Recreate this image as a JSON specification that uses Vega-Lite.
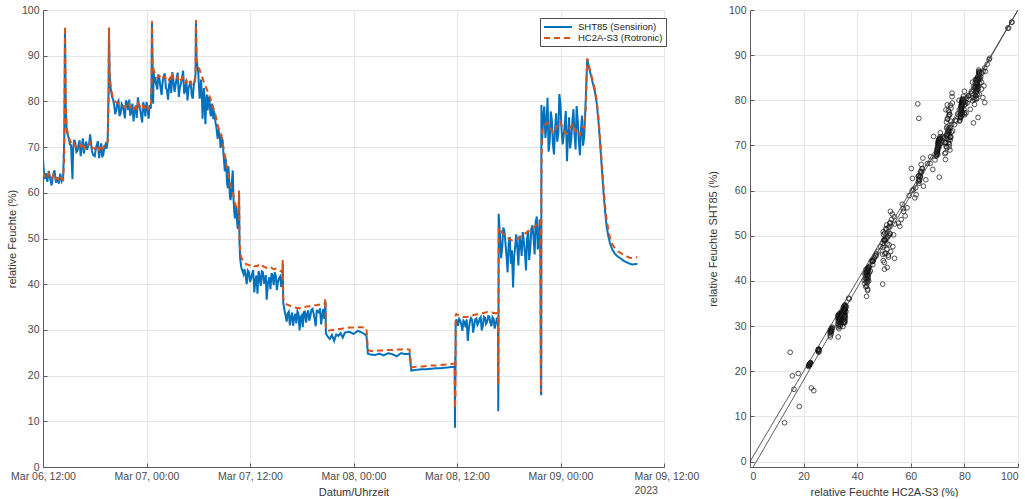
{
  "$schema": "https://vega.github.io/schema/vega-lite/v6.json",
  "background": "white",
  "padding": {"left": 6, "top": 5, "right": 5, "bottom": 0},
  "bounds": "flush",
  "spacing": 86,
  "config": {
    "font": "Liberation Sans",
    "view": {"stroke": null},
    "axis": {
      "labelFont": "Liberation Sans",
      "labelFontSize": 10.5,
      "labelColor": "#4a4a4a",
      "titleFont": "Liberation Sans",
      "titleFontSize": 11,
      "titleFontWeight": "normal",
      "titleColor": "#333333",
      "domainColor": "#5a5a5a",
      "tickColor": "#5a5a5a",
      "gridColor": "#e6e6e6",
      "tickSize": -4,
      "labelPadding": 8
    }
  },
  "datasets": {
    "rh": [
      {"t": "2023-03-06T12:00", "s": 67.2, "r": 64.5},
      {"t": "2023-03-06T12:10", "s": 63.0, "r": 63.6},
      {"t": "2023-03-06T12:20", "s": 64.3, "r": 63.9},
      {"t": "2023-03-06T12:30", "s": 62.4, "r": 63.3},
      {"t": "2023-03-06T12:40", "s": 64.8, "r": 64.2},
      {"t": "2023-03-06T12:50", "s": 63.1, "r": 63.5},
      {"t": "2023-03-06T13:00", "s": 61.6, "r": 63.0},
      {"t": "2023-03-06T13:10", "s": 63.9, "r": 63.8},
      {"t": "2023-03-06T13:20", "s": 64.9, "r": 64.3},
      {"t": "2023-03-06T13:30", "s": 62.2, "r": 63.1},
      {"t": "2023-03-06T13:40", "s": 63.4, "r": 63.2},
      {"t": "2023-03-06T13:50", "s": 62.0, "r": 62.9},
      {"t": "2023-03-06T14:00", "s": 64.2, "r": 63.6},
      {"t": "2023-03-06T14:10", "s": 62.5, "r": 63.0},
      {"t": "2023-03-06T14:20", "s": 63.2, "r": 62.8},
      {"t": "2023-03-06T14:28", "s": 72.0, "r": 68.5},
      {"t": "2023-03-06T14:33", "s": 96.0, "r": 96.5},
      {"t": "2023-03-06T14:38", "s": 79.0, "r": 80.0},
      {"t": "2023-03-06T14:45", "s": 73.5, "r": 74.0},
      {"t": "2023-03-06T15:00", "s": 71.8, "r": 72.2},
      {"t": "2023-03-06T15:15", "s": 70.4, "r": 71.0},
      {"t": "2023-03-06T15:25", "s": 63.0, "r": 70.6},
      {"t": "2023-03-06T15:30", "s": 69.8, "r": 70.4},
      {"t": "2023-03-06T15:45", "s": 70.9, "r": 70.2},
      {"t": "2023-03-06T16:00", "s": 69.2, "r": 70.0},
      {"t": "2023-03-06T16:15", "s": 71.5, "r": 70.8},
      {"t": "2023-03-06T16:30", "s": 70.0, "r": 70.3},
      {"t": "2023-03-06T16:45", "s": 68.6, "r": 69.7},
      {"t": "2023-03-06T17:00", "s": 71.2, "r": 70.4},
      {"t": "2023-03-06T17:15", "s": 70.3, "r": 70.5},
      {"t": "2023-03-06T17:28", "s": 72.8, "r": 71.0},
      {"t": "2023-03-06T17:40", "s": 69.1, "r": 70.0},
      {"t": "2023-03-06T18:00", "s": 68.0, "r": 69.6},
      {"t": "2023-03-06T18:15", "s": 70.5, "r": 70.2},
      {"t": "2023-03-06T18:30", "s": 67.6, "r": 69.4},
      {"t": "2023-03-06T18:45", "s": 70.8, "r": 70.4},
      {"t": "2023-03-06T19:00", "s": 68.4, "r": 69.9},
      {"t": "2023-03-06T19:15", "s": 70.6, "r": 70.6},
      {"t": "2023-03-06T19:30", "s": 71.4, "r": 71.2},
      {"t": "2023-03-06T19:36", "s": 82.0, "r": 80.0},
      {"t": "2023-03-06T19:39", "s": 96.0, "r": 96.2},
      {"t": "2023-03-06T19:43", "s": 86.0, "r": 86.5},
      {"t": "2023-03-06T19:50", "s": 83.0, "r": 83.5},
      {"t": "2023-03-06T20:00", "s": 81.0, "r": 81.6},
      {"t": "2023-03-06T20:15", "s": 79.2, "r": 80.4},
      {"t": "2023-03-06T20:30", "s": 78.0, "r": 79.8},
      {"t": "2023-03-06T20:45", "s": 80.1, "r": 79.5},
      {"t": "2023-03-06T21:00", "s": 77.4, "r": 79.2},
      {"t": "2023-03-06T21:15", "s": 78.9, "r": 79.0},
      {"t": "2023-03-06T21:30", "s": 76.3, "r": 78.6},
      {"t": "2023-03-06T21:45", "s": 79.6, "r": 79.1},
      {"t": "2023-03-06T22:00", "s": 80.4, "r": 79.4},
      {"t": "2023-03-06T22:15", "s": 77.8, "r": 78.8},
      {"t": "2023-03-06T22:30", "s": 75.6, "r": 78.3},
      {"t": "2023-03-06T22:45", "s": 79.1, "r": 78.9},
      {"t": "2023-03-06T23:00", "s": 80.9, "r": 79.6},
      {"t": "2023-03-06T23:15", "s": 78.3, "r": 79.0},
      {"t": "2023-03-06T23:30", "s": 75.4, "r": 78.2},
      {"t": "2023-03-06T23:45", "s": 78.8, "r": 78.7},
      {"t": "2023-03-07T00:00", "s": 79.9, "r": 79.3},
      {"t": "2023-03-07T00:15", "s": 76.2, "r": 78.4},
      {"t": "2023-03-07T00:30", "s": 78.4, "r": 78.9},
      {"t": "2023-03-07T00:35", "s": 84.0, "r": 83.0},
      {"t": "2023-03-07T00:38", "s": 97.3, "r": 97.6},
      {"t": "2023-03-07T00:42", "s": 88.0, "r": 88.5},
      {"t": "2023-03-07T00:46", "s": 79.5, "r": 87.6},
      {"t": "2023-03-07T00:50", "s": 86.5, "r": 87.0},
      {"t": "2023-03-07T01:00", "s": 85.3, "r": 86.1},
      {"t": "2023-03-07T01:15", "s": 82.6, "r": 85.2},
      {"t": "2023-03-07T01:30", "s": 84.9, "r": 85.6},
      {"t": "2023-03-07T01:45", "s": 81.4, "r": 84.8},
      {"t": "2023-03-07T02:00", "s": 85.6, "r": 85.4},
      {"t": "2023-03-07T02:15", "s": 83.0, "r": 84.9},
      {"t": "2023-03-07T02:30", "s": 80.4, "r": 84.3},
      {"t": "2023-03-07T02:45", "s": 84.8, "r": 85.2},
      {"t": "2023-03-07T03:00", "s": 86.4, "r": 85.6},
      {"t": "2023-03-07T03:15", "s": 82.1, "r": 84.6},
      {"t": "2023-03-07T03:30", "s": 85.1, "r": 85.0},
      {"t": "2023-03-07T03:45", "s": 81.0, "r": 84.2},
      {"t": "2023-03-07T04:00", "s": 83.9, "r": 84.7},
      {"t": "2023-03-07T04:15", "s": 86.7, "r": 85.3},
      {"t": "2023-03-07T04:30", "s": 82.5, "r": 84.1},
      {"t": "2023-03-07T04:45", "s": 80.2, "r": 83.7},
      {"t": "2023-03-07T05:00", "s": 83.6, "r": 84.2},
      {"t": "2023-03-07T05:15", "s": 81.3, "r": 83.6},
      {"t": "2023-03-07T05:30", "s": 83.9, "r": 84.0},
      {"t": "2023-03-07T05:41", "s": 86.0, "r": 85.5},
      {"t": "2023-03-07T05:44", "s": 97.3, "r": 97.8},
      {"t": "2023-03-07T05:48", "s": 89.0, "r": 89.2},
      {"t": "2023-03-07T06:00", "s": 86.4, "r": 87.8},
      {"t": "2023-03-07T06:10", "s": 80.6, "r": 86.9},
      {"t": "2023-03-07T06:20", "s": 84.8, "r": 86.0},
      {"t": "2023-03-07T06:30", "s": 76.2, "r": 85.1},
      {"t": "2023-03-07T06:40", "s": 82.9, "r": 84.2},
      {"t": "2023-03-07T06:50", "s": 75.0, "r": 83.4},
      {"t": "2023-03-07T07:00", "s": 81.5, "r": 82.6},
      {"t": "2023-03-07T07:10", "s": 80.2, "r": 81.8},
      {"t": "2023-03-07T07:20", "s": 79.4, "r": 81.0},
      {"t": "2023-03-07T07:30", "s": 76.8, "r": 80.1},
      {"t": "2023-03-07T07:40", "s": 78.6, "r": 79.2},
      {"t": "2023-03-07T07:50", "s": 77.9, "r": 78.1},
      {"t": "2023-03-07T08:00", "s": 75.4, "r": 77.0},
      {"t": "2023-03-07T08:10", "s": 73.2, "r": 75.6},
      {"t": "2023-03-07T08:20", "s": 73.9, "r": 74.3},
      {"t": "2023-03-07T08:30", "s": 72.6, "r": 73.6},
      {"t": "2023-03-07T08:40", "s": 70.6, "r": 72.8},
      {"t": "2023-03-07T08:50", "s": 71.4, "r": 70.9},
      {"t": "2023-03-07T09:00", "s": 66.8, "r": 69.0},
      {"t": "2023-03-07T09:10", "s": 67.5, "r": 67.4},
      {"t": "2023-03-07T09:20", "s": 62.4, "r": 65.6},
      {"t": "2023-03-07T09:30", "s": 65.8, "r": 63.9},
      {"t": "2023-03-07T09:40", "s": 59.1, "r": 62.0},
      {"t": "2023-03-07T09:50", "s": 60.3, "r": 61.0},
      {"t": "2023-03-07T10:00", "s": 64.9, "r": 60.2},
      {"t": "2023-03-07T10:10", "s": 56.2, "r": 58.6},
      {"t": "2023-03-07T10:20", "s": 55.4, "r": 57.3},
      {"t": "2023-03-07T10:30", "s": 53.6, "r": 56.4},
      {"t": "2023-03-07T10:40", "s": 52.8, "r": 55.4},
      {"t": "2023-03-07T10:44", "s": 60.0, "r": 60.5},
      {"t": "2023-03-07T10:47", "s": 49.0, "r": 50.0},
      {"t": "2023-03-07T10:52", "s": 45.5, "r": 47.0},
      {"t": "2023-03-07T11:00", "s": 43.6, "r": 45.8},
      {"t": "2023-03-07T11:15", "s": 42.2, "r": 44.9},
      {"t": "2023-03-07T11:30", "s": 41.8, "r": 44.5},
      {"t": "2023-03-07T11:45", "s": 43.0, "r": 44.3},
      {"t": "2023-03-07T12:00", "s": 40.5, "r": 44.1},
      {"t": "2023-03-07T12:15", "s": 42.3, "r": 44.2},
      {"t": "2023-03-07T12:30", "s": 38.2, "r": 43.9},
      {"t": "2023-03-07T12:45", "s": 41.9, "r": 44.0},
      {"t": "2023-03-07T13:00", "s": 42.9, "r": 44.2},
      {"t": "2023-03-07T13:15", "s": 39.6, "r": 43.8},
      {"t": "2023-03-07T13:30", "s": 42.6, "r": 44.0},
      {"t": "2023-03-07T13:45", "s": 41.2, "r": 43.7},
      {"t": "2023-03-07T13:56", "s": 36.6, "r": 43.5},
      {"t": "2023-03-07T14:15", "s": 41.5, "r": 43.6},
      {"t": "2023-03-07T14:30", "s": 42.4, "r": 43.6},
      {"t": "2023-03-07T14:45", "s": 39.8, "r": 43.3},
      {"t": "2023-03-07T15:00", "s": 41.8, "r": 43.4},
      {"t": "2023-03-07T15:15", "s": 40.6, "r": 43.1},
      {"t": "2023-03-07T15:30", "s": 41.7, "r": 42.9},
      {"t": "2023-03-07T15:45", "s": 40.2, "r": 42.6},
      {"t": "2023-03-07T15:48", "s": 44.5, "r": 45.3},
      {"t": "2023-03-07T15:51", "s": 36.0, "r": 37.0},
      {"t": "2023-03-07T16:00", "s": 34.3, "r": 36.0},
      {"t": "2023-03-07T16:15", "s": 31.8, "r": 35.6},
      {"t": "2023-03-07T16:30", "s": 34.0, "r": 35.4},
      {"t": "2023-03-07T16:45", "s": 32.6, "r": 35.2},
      {"t": "2023-03-07T17:00", "s": 30.9, "r": 35.0},
      {"t": "2023-03-07T17:15", "s": 33.5, "r": 34.9},
      {"t": "2023-03-07T17:30", "s": 34.1, "r": 34.8},
      {"t": "2023-03-07T17:45", "s": 29.9, "r": 34.7},
      {"t": "2023-03-07T18:00", "s": 33.2, "r": 34.9},
      {"t": "2023-03-07T18:15", "s": 33.9, "r": 35.0},
      {"t": "2023-03-07T18:30", "s": 31.6, "r": 35.1},
      {"t": "2023-03-07T18:45", "s": 34.3, "r": 35.2},
      {"t": "2023-03-07T19:00", "s": 33.0, "r": 35.2},
      {"t": "2023-03-07T19:15", "s": 34.6, "r": 35.3},
      {"t": "2023-03-07T19:30", "s": 32.3, "r": 35.4},
      {"t": "2023-03-07T19:45", "s": 34.4, "r": 35.4},
      {"t": "2023-03-07T20:00", "s": 33.8, "r": 35.5},
      {"t": "2023-03-07T20:15", "s": 31.2, "r": 35.4},
      {"t": "2023-03-07T20:30", "s": 34.6, "r": 35.5},
      {"t": "2023-03-07T20:45", "s": 36.2, "r": 36.8},
      {"t": "2023-03-07T20:48", "s": 29.2, "r": 30.0},
      {"t": "2023-03-07T21:00", "s": 28.6, "r": 29.8},
      {"t": "2023-03-07T21:15", "s": 28.0, "r": 29.9},
      {"t": "2023-03-07T21:30", "s": 28.9, "r": 30.0},
      {"t": "2023-03-07T21:45", "s": 27.6, "r": 30.0},
      {"t": "2023-03-07T22:00", "s": 29.0, "r": 30.1},
      {"t": "2023-03-07T22:15", "s": 28.7, "r": 30.2},
      {"t": "2023-03-07T22:30", "s": 29.3, "r": 30.2},
      {"t": "2023-03-07T22:45", "s": 28.3, "r": 30.3},
      {"t": "2023-03-07T23:00", "s": 29.4, "r": 30.4},
      {"t": "2023-03-07T23:30", "s": 29.6, "r": 30.5},
      {"t": "2023-03-08T00:00", "s": 29.1, "r": 30.5},
      {"t": "2023-03-08T00:30", "s": 29.8, "r": 30.6},
      {"t": "2023-03-08T01:00", "s": 29.4, "r": 30.6},
      {"t": "2023-03-08T01:30", "s": 28.8, "r": 30.4},
      {"t": "2023-03-08T01:40", "s": 24.8, "r": 25.6},
      {"t": "2023-03-08T02:00", "s": 24.6, "r": 25.4},
      {"t": "2023-03-08T02:30", "s": 24.5, "r": 25.4},
      {"t": "2023-03-08T03:00", "s": 24.8, "r": 25.5},
      {"t": "2023-03-08T03:30", "s": 24.4, "r": 25.5},
      {"t": "2023-03-08T04:00", "s": 24.9, "r": 25.6},
      {"t": "2023-03-08T04:30", "s": 24.7, "r": 25.6},
      {"t": "2023-03-08T05:00", "s": 24.2, "r": 25.7},
      {"t": "2023-03-08T05:30", "s": 24.9, "r": 25.7},
      {"t": "2023-03-08T06:00", "s": 24.7, "r": 25.8},
      {"t": "2023-03-08T06:30", "s": 24.8, "r": 25.7},
      {"t": "2023-03-08T06:42", "s": 21.1, "r": 21.8},
      {"t": "2023-03-08T07:00", "s": 21.2, "r": 21.9},
      {"t": "2023-03-08T07:30", "s": 21.3, "r": 22.0},
      {"t": "2023-03-08T08:00", "s": 21.4, "r": 22.0},
      {"t": "2023-03-08T08:30", "s": 21.4, "r": 22.1},
      {"t": "2023-03-08T09:00", "s": 21.5, "r": 22.2},
      {"t": "2023-03-08T09:30", "s": 21.6, "r": 22.2},
      {"t": "2023-03-08T10:00", "s": 21.6, "r": 22.3},
      {"t": "2023-03-08T10:30", "s": 21.7, "r": 22.4},
      {"t": "2023-03-08T11:00", "s": 21.8, "r": 22.5},
      {"t": "2023-03-08T11:30", "s": 21.9, "r": 22.6},
      {"t": "2023-03-08T11:44", "s": 21.9, "r": 22.6},
      {"t": "2023-03-08T11:46", "s": 8.6, "r": 12.9},
      {"t": "2023-03-08T11:48", "s": 24.2, "r": 15.0},
      {"t": "2023-03-08T11:49", "s": 19.0, "r": 15.8},
      {"t": "2023-03-08T11:51", "s": 31.5, "r": 33.2},
      {"t": "2023-03-08T12:00", "s": 31.8, "r": 33.4},
      {"t": "2023-03-08T12:15", "s": 32.4, "r": 33.1},
      {"t": "2023-03-08T12:30", "s": 31.2, "r": 32.9},
      {"t": "2023-03-08T12:45", "s": 32.0, "r": 32.8},
      {"t": "2023-03-08T13:00", "s": 30.6, "r": 32.8},
      {"t": "2023-03-08T13:15", "s": 27.6, "r": 32.9},
      {"t": "2023-03-08T13:30", "s": 31.9, "r": 33.0},
      {"t": "2023-03-08T13:45", "s": 32.2, "r": 33.2},
      {"t": "2023-03-08T14:00", "s": 31.0, "r": 33.3},
      {"t": "2023-03-08T14:15", "s": 32.5, "r": 33.4},
      {"t": "2023-03-08T14:30", "s": 31.6, "r": 33.5},
      {"t": "2023-03-08T14:45", "s": 32.8, "r": 33.6},
      {"t": "2023-03-08T15:00", "s": 30.9, "r": 33.7},
      {"t": "2023-03-08T15:15", "s": 32.7, "r": 33.8},
      {"t": "2023-03-08T15:30", "s": 31.8, "r": 33.9},
      {"t": "2023-03-08T15:45", "s": 32.9, "r": 33.9},
      {"t": "2023-03-08T16:00", "s": 30.8, "r": 33.8},
      {"t": "2023-03-08T16:15", "s": 32.4, "r": 33.7},
      {"t": "2023-03-08T16:30", "s": 31.4, "r": 33.6},
      {"t": "2023-03-08T16:45", "s": 32.6, "r": 33.8},
      {"t": "2023-03-08T16:47", "s": 12.2, "r": 18.4},
      {"t": "2023-03-08T16:48", "s": 19.5, "r": 18.0},
      {"t": "2023-03-08T16:50", "s": 55.4, "r": 52.4},
      {"t": "2023-03-08T17:00", "s": 50.1, "r": 51.8},
      {"t": "2023-03-08T17:15", "s": 48.2, "r": 51.2},
      {"t": "2023-03-08T17:30", "s": 51.6, "r": 50.7},
      {"t": "2023-03-08T17:45", "s": 46.0, "r": 50.3},
      {"t": "2023-03-08T18:00", "s": 49.1, "r": 50.0},
      {"t": "2023-03-08T18:15", "s": 44.5, "r": 49.7},
      {"t": "2023-03-08T18:30", "s": 39.3, "r": 49.5},
      {"t": "2023-03-08T18:45", "s": 48.3, "r": 49.6},
      {"t": "2023-03-08T19:00", "s": 47.8, "r": 49.9},
      {"t": "2023-03-08T19:15", "s": 50.6, "r": 50.3},
      {"t": "2023-03-08T19:30", "s": 46.2, "r": 50.6},
      {"t": "2023-03-08T19:45", "s": 49.4, "r": 51.0},
      {"t": "2023-03-08T20:00", "s": 43.0, "r": 51.2},
      {"t": "2023-03-08T20:15", "s": 51.8, "r": 51.6},
      {"t": "2023-03-08T20:30", "s": 48.0, "r": 51.9},
      {"t": "2023-03-08T20:45", "s": 52.9, "r": 52.3},
      {"t": "2023-03-08T21:00", "s": 46.5, "r": 52.5},
      {"t": "2023-03-08T21:15", "s": 54.8, "r": 53.1},
      {"t": "2023-03-08T21:30", "s": 50.2, "r": 53.6},
      {"t": "2023-03-08T21:40", "s": 45.0, "r": 53.9},
      {"t": "2023-03-08T21:44", "s": 16.0, "r": 16.4},
      {"t": "2023-03-08T21:45", "s": 16.3, "r": 22.9},
      {"t": "2023-03-08T21:46", "s": 15.7, "r": 23.8},
      {"t": "2023-03-08T21:47", "s": 79.2, "r": 62.6},
      {"t": "2023-03-08T21:48", "s": 76.0, "r": 63.0},
      {"t": "2023-03-08T21:50", "s": 70.5, "r": 72.8},
      {"t": "2023-03-08T22:00", "s": 76.8, "r": 74.5},
      {"t": "2023-03-08T22:15", "s": 72.0, "r": 74.9},
      {"t": "2023-03-08T22:30", "s": 80.8, "r": 75.4},
      {"t": "2023-03-08T22:45", "s": 71.3, "r": 74.2},
      {"t": "2023-03-08T23:00", "s": 75.9, "r": 73.6},
      {"t": "2023-03-08T23:15", "s": 68.4, "r": 73.0},
      {"t": "2023-03-08T23:30", "s": 77.4, "r": 74.3},
      {"t": "2023-03-08T23:45", "s": 73.0, "r": 75.1},
      {"t": "2023-03-09T00:00", "s": 79.4, "r": 75.5},
      {"t": "2023-03-09T00:15", "s": 70.6, "r": 74.0},
      {"t": "2023-03-09T00:30", "s": 75.2, "r": 73.3},
      {"t": "2023-03-09T00:45", "s": 66.9, "r": 72.9},
      {"t": "2023-03-09T01:00", "s": 76.5, "r": 74.1},
      {"t": "2023-03-09T01:15", "s": 71.8, "r": 74.6},
      {"t": "2023-03-09T01:30", "s": 78.3, "r": 75.0},
      {"t": "2023-03-09T01:45", "s": 69.5, "r": 73.4},
      {"t": "2023-03-09T02:00", "s": 75.8, "r": 73.8},
      {"t": "2023-03-09T02:15", "s": 68.2, "r": 72.7},
      {"t": "2023-03-09T02:30", "s": 76.9, "r": 74.5},
      {"t": "2023-03-09T02:45", "s": 72.4, "r": 74.2},
      {"t": "2023-03-09T02:55", "s": 80.0, "r": 78.0},
      {"t": "2023-03-09T03:06", "s": 89.3, "r": 89.4},
      {"t": "2023-03-09T03:20", "s": 87.2, "r": 87.6},
      {"t": "2023-03-09T03:40", "s": 84.6, "r": 85.0},
      {"t": "2023-03-09T04:00", "s": 82.0, "r": 82.6},
      {"t": "2023-03-09T04:12", "s": 79.6, "r": 80.2},
      {"t": "2023-03-09T04:24", "s": 75.6, "r": 76.6},
      {"t": "2023-03-09T04:34", "s": 71.6, "r": 72.4},
      {"t": "2023-03-09T04:46", "s": 66.0, "r": 67.2},
      {"t": "2023-03-09T04:58", "s": 60.6, "r": 61.8},
      {"t": "2023-03-09T05:10", "s": 56.0, "r": 57.2},
      {"t": "2023-03-09T05:21", "s": 52.6, "r": 54.0},
      {"t": "2023-03-09T05:33", "s": 50.5, "r": 52.0},
      {"t": "2023-03-09T05:44", "s": 49.0, "r": 50.2},
      {"t": "2023-03-09T06:00", "s": 47.6, "r": 48.8},
      {"t": "2023-03-09T06:20", "s": 46.6, "r": 47.8},
      {"t": "2023-03-09T06:40", "s": 46.0, "r": 47.2},
      {"t": "2023-03-09T07:00", "s": 45.6, "r": 46.8},
      {"t": "2023-03-09T07:20", "s": 45.1, "r": 46.4},
      {"t": "2023-03-09T07:40", "s": 44.8, "r": 46.1},
      {"t": "2023-03-09T08:00", "s": 44.5, "r": 45.8},
      {"t": "2023-03-09T08:20", "s": 44.3, "r": 45.7},
      {"t": "2023-03-09T08:40", "s": 44.4, "r": 45.8},
      {"t": "2023-03-09T08:55", "s": 44.4, "r": 45.9},
      {"t": "2023-03-06T15:07", "s": 70.6, "r": 71.5},
      {"t": "2023-03-06T15:37", "s": 71.6, "r": 70.7},
      {"t": "2023-03-06T15:52", "s": 68.9, "r": 70.0},
      {"t": "2023-03-06T16:07", "s": 70.5, "r": 70.3},
      {"t": "2023-03-06T16:22", "s": 68.0, "r": 70.1},
      {"t": "2023-03-06T16:37", "s": 71.9, "r": 70.9},
      {"t": "2023-03-06T16:52", "s": 70.2, "r": 70.1},
      {"t": "2023-03-06T17:07", "s": 69.4, "r": 70.0},
      {"t": "2023-03-06T17:22", "s": 71.0, "r": 70.6},
      {"t": "2023-03-06T17:35", "s": 70.6, "r": 70.3},
      {"t": "2023-03-06T17:50", "s": 68.2, "r": 69.8},
      {"t": "2023-03-06T18:07", "s": 69.5, "r": 70.0},
      {"t": "2023-03-06T18:22", "s": 71.3, "r": 70.4},
      {"t": "2023-03-06T18:37", "s": 69.2, "r": 69.8},
      {"t": "2023-03-06T18:52", "s": 67.8, "r": 69.6},
      {"t": "2023-03-06T19:07", "s": 70.0, "r": 70.3},
      {"t": "2023-03-06T19:22", "s": 69.6, "r": 70.5},
      {"t": "2023-03-06T20:07", "s": 80.5, "r": 80.9},
      {"t": "2023-03-06T20:22", "s": 77.2, "r": 80.0},
      {"t": "2023-03-06T20:37", "s": 79.6, "r": 79.6},
      {"t": "2023-03-06T20:52", "s": 76.8, "r": 79.3},
      {"t": "2023-03-06T21:07", "s": 79.4, "r": 79.1},
      {"t": "2023-03-06T21:22", "s": 77.9, "r": 78.9},
      {"t": "2023-03-06T21:37", "s": 80.2, "r": 79.2},
      {"t": "2023-03-06T21:52", "s": 78.1, "r": 78.9},
      {"t": "2023-03-06T22:07", "s": 76.9, "r": 78.7},
      {"t": "2023-03-06T22:22", "s": 79.5, "r": 79.0},
      {"t": "2023-03-06T22:37", "s": 78.2, "r": 78.6},
      {"t": "2023-03-06T22:52", "s": 76.4, "r": 78.5},
      {"t": "2023-03-06T23:07", "s": 79.3, "r": 79.1},
      {"t": "2023-03-06T23:22", "s": 77.0, "r": 78.7},
      {"t": "2023-03-06T23:37", "s": 79.8, "r": 79.0},
      {"t": "2023-03-06T23:52", "s": 76.7, "r": 78.6},
      {"t": "2023-03-07T00:07", "s": 78.6, "r": 78.9},
      {"t": "2023-03-07T00:22", "s": 79.2, "r": 79.0},
      {"t": "2023-03-07T00:55", "s": 84.0, "r": 86.4},
      {"t": "2023-03-07T01:07", "s": 83.8, "r": 85.7},
      {"t": "2023-03-07T01:22", "s": 85.9, "r": 85.6},
      {"t": "2023-03-07T01:37", "s": 83.1, "r": 85.1},
      {"t": "2023-03-07T01:52", "s": 84.2, "r": 85.0},
      {"t": "2023-03-07T02:07", "s": 86.1, "r": 85.4},
      {"t": "2023-03-07T02:22", "s": 82.4, "r": 84.7},
      {"t": "2023-03-07T02:37", "s": 83.6, "r": 84.8},
      {"t": "2023-03-07T02:52", "s": 81.8, "r": 84.5},
      {"t": "2023-03-07T03:07", "s": 84.6, "r": 85.0},
      {"t": "2023-03-07T03:22", "s": 83.5, "r": 84.8},
      {"t": "2023-03-07T03:37", "s": 86.3, "r": 85.4},
      {"t": "2023-03-07T03:52", "s": 83.0, "r": 84.6},
      {"t": "2023-03-07T04:07", "s": 85.2, "r": 84.9},
      {"t": "2023-03-07T04:22", "s": 81.7, "r": 84.3},
      {"t": "2023-03-07T04:37", "s": 84.7, "r": 84.6},
      {"t": "2023-03-07T04:52", "s": 82.9, "r": 84.0},
      {"t": "2023-03-07T05:07", "s": 84.5, "r": 84.3},
      {"t": "2023-03-07T05:22", "s": 80.6, "r": 83.5},
      {"t": "2023-03-07T05:35", "s": 84.6, "r": 84.1},
      {"t": "2023-03-07T06:05", "s": 83.2, "r": 87.3},
      {"t": "2023-03-07T06:15", "s": 82.5, "r": 86.4},
      {"t": "2023-03-07T06:25", "s": 81.4, "r": 85.5},
      {"t": "2023-03-07T06:35", "s": 80.3, "r": 84.6},
      {"t": "2023-03-07T06:45", "s": 79.1, "r": 83.8},
      {"t": "2023-03-07T06:55", "s": 79.9, "r": 83.0},
      {"t": "2023-03-07T07:05", "s": 78.0, "r": 82.2},
      {"t": "2023-03-07T07:15", "s": 81.0, "r": 81.4},
      {"t": "2023-03-07T07:25", "s": 77.2, "r": 80.6},
      {"t": "2023-03-07T07:35", "s": 79.5, "r": 79.6},
      {"t": "2023-03-07T07:45", "s": 76.1, "r": 78.6},
      {"t": "2023-03-07T07:55", "s": 77.0, "r": 77.5},
      {"t": "2023-03-07T08:05", "s": 74.6, "r": 76.3},
      {"t": "2023-03-07T08:15", "s": 71.8, "r": 74.9},
      {"t": "2023-03-07T08:25", "s": 72.9, "r": 73.9},
      {"t": "2023-03-07T08:35", "s": 69.8, "r": 73.2},
      {"t": "2023-03-07T08:45", "s": 72.0, "r": 71.9},
      {"t": "2023-03-07T08:55", "s": 68.7, "r": 70.0},
      {"t": "2023-03-07T09:05", "s": 64.7, "r": 68.2},
      {"t": "2023-03-07T09:15", "s": 66.0, "r": 66.2},
      {"t": "2023-03-07T09:25", "s": 61.0, "r": 64.7},
      {"t": "2023-03-07T09:35", "s": 63.2, "r": 62.9},
      {"t": "2023-03-07T09:45", "s": 58.4, "r": 61.5},
      {"t": "2023-03-07T09:55", "s": 62.7, "r": 60.6},
      {"t": "2023-03-07T10:05", "s": 58.9, "r": 59.4},
      {"t": "2023-03-07T10:15", "s": 54.4, "r": 57.9},
      {"t": "2023-03-07T10:25", "s": 57.0, "r": 56.8},
      {"t": "2023-03-07T10:35", "s": 52.1, "r": 55.9},
      {"t": "2023-03-07T11:22", "s": 43.3, "r": 44.7},
      {"t": "2023-03-07T11:37", "s": 40.0, "r": 44.3},
      {"t": "2023-03-07T11:52", "s": 42.7, "r": 44.2},
      {"t": "2023-03-07T12:07", "s": 41.2, "r": 44.0},
      {"t": "2023-03-07T12:22", "s": 43.1, "r": 44.2},
      {"t": "2023-03-07T12:37", "s": 40.8, "r": 44.0},
      {"t": "2023-03-07T12:52", "s": 37.9, "r": 43.9},
      {"t": "2023-03-07T13:07", "s": 41.4, "r": 44.0},
      {"t": "2023-03-07T13:22", "s": 42.8, "r": 43.9},
      {"t": "2023-03-07T13:37", "s": 40.1, "r": 43.8},
      {"t": "2023-03-07T13:50", "s": 42.0, "r": 43.7},
      {"t": "2023-03-07T14:05", "s": 40.4, "r": 43.5},
      {"t": "2023-03-07T14:22", "s": 38.9, "r": 43.5},
      {"t": "2023-03-07T14:37", "s": 41.9, "r": 43.4},
      {"t": "2023-03-07T14:52", "s": 42.6, "r": 43.3},
      {"t": "2023-03-07T15:07", "s": 38.7, "r": 43.2},
      {"t": "2023-03-07T15:22", "s": 41.3, "r": 43.0},
      {"t": "2023-03-07T15:37", "s": 39.4, "r": 42.8},
      {"t": "2023-03-07T16:07", "s": 33.2, "r": 35.8},
      {"t": "2023-03-07T16:22", "s": 33.6, "r": 35.5},
      {"t": "2023-03-07T16:37", "s": 31.0, "r": 35.3},
      {"t": "2023-03-07T16:52", "s": 33.8, "r": 35.1},
      {"t": "2023-03-07T17:07", "s": 32.7, "r": 34.9},
      {"t": "2023-03-07T17:22", "s": 31.4, "r": 34.8},
      {"t": "2023-03-07T17:37", "s": 33.6, "r": 34.8},
      {"t": "2023-03-07T17:52", "s": 32.8, "r": 34.8},
      {"t": "2023-03-07T18:07", "s": 30.6, "r": 34.9},
      {"t": "2023-03-07T18:22", "s": 34.0, "r": 35.0},
      {"t": "2023-03-07T18:37", "s": 33.4, "r": 35.1},
      {"t": "2023-03-07T18:52", "s": 32.0, "r": 35.2},
      {"t": "2023-03-07T19:07", "s": 34.4, "r": 35.2},
      {"t": "2023-03-07T19:22", "s": 33.7, "r": 35.3},
      {"t": "2023-03-07T19:37", "s": 30.8, "r": 35.4},
      {"t": "2023-03-07T19:52", "s": 33.9, "r": 35.5},
      {"t": "2023-03-07T20:07", "s": 34.7, "r": 35.5},
      {"t": "2023-03-07T20:22", "s": 33.1, "r": 35.4},
      {"t": "2023-03-07T20:37", "s": 32.4, "r": 35.5},
      {"t": "2023-03-08T11:55", "s": 32.3, "r": 33.5},
      {"t": "2023-03-08T12:07", "s": 30.9, "r": 33.3},
      {"t": "2023-03-08T12:22", "s": 32.1, "r": 33.0},
      {"t": "2023-03-08T12:37", "s": 29.8, "r": 32.9},
      {"t": "2023-03-08T12:52", "s": 31.7, "r": 32.8},
      {"t": "2023-03-08T13:07", "s": 32.3, "r": 32.8},
      {"t": "2023-03-08T13:22", "s": 30.2, "r": 32.9},
      {"t": "2023-03-08T13:37", "s": 32.6, "r": 33.1},
      {"t": "2023-03-08T13:52", "s": 29.4, "r": 33.2},
      {"t": "2023-03-08T14:07", "s": 32.3, "r": 33.3},
      {"t": "2023-03-08T14:22", "s": 31.1, "r": 33.4},
      {"t": "2023-03-08T14:37", "s": 32.4, "r": 33.5},
      {"t": "2023-03-08T14:52", "s": 29.9, "r": 33.6},
      {"t": "2023-03-08T15:07", "s": 32.9, "r": 33.7},
      {"t": "2023-03-08T15:22", "s": 31.3, "r": 33.8},
      {"t": "2023-03-08T15:37", "s": 33.0, "r": 33.9},
      {"t": "2023-03-08T15:52", "s": 31.5, "r": 33.9},
      {"t": "2023-03-08T16:07", "s": 32.8, "r": 33.8},
      {"t": "2023-03-08T16:22", "s": 30.3, "r": 33.7},
      {"t": "2023-03-08T16:37", "s": 32.5, "r": 33.7},
      {"t": "2023-03-08T16:55", "s": 52.8, "r": 52.2},
      {"t": "2023-03-08T17:07", "s": 45.7, "r": 51.6},
      {"t": "2023-03-08T17:22", "s": 52.4, "r": 51.0},
      {"t": "2023-03-08T17:37", "s": 49.0, "r": 50.5},
      {"t": "2023-03-08T17:52", "s": 42.6, "r": 50.2},
      {"t": "2023-03-08T18:07", "s": 50.3, "r": 49.8},
      {"t": "2023-03-08T18:22", "s": 47.4, "r": 49.6},
      {"t": "2023-03-08T18:37", "s": 45.9, "r": 49.5},
      {"t": "2023-03-08T18:52", "s": 50.9, "r": 49.7},
      {"t": "2023-03-08T19:07", "s": 44.1, "r": 50.1},
      {"t": "2023-03-08T19:22", "s": 49.1, "r": 50.4},
      {"t": "2023-03-08T19:37", "s": 51.4, "r": 50.8},
      {"t": "2023-03-08T19:52", "s": 47.0, "r": 51.1},
      {"t": "2023-03-08T20:07", "s": 49.8, "r": 51.4},
      {"t": "2023-03-08T20:22", "s": 45.3, "r": 51.7},
      {"t": "2023-03-08T20:37", "s": 52.1, "r": 52.0},
      {"t": "2023-03-08T20:52", "s": 50.4, "r": 52.4},
      {"t": "2023-03-08T21:07", "s": 53.6, "r": 52.8},
      {"t": "2023-03-08T21:22", "s": 47.6, "r": 53.3},
      {"t": "2023-03-08T21:35", "s": 54.2, "r": 53.8},
      {"t": "2023-03-08T21:55", "s": 73.1, "r": 74.0},
      {"t": "2023-03-08T22:07", "s": 78.9, "r": 74.8},
      {"t": "2023-03-08T22:22", "s": 74.6, "r": 75.2},
      {"t": "2023-03-08T22:37", "s": 69.0, "r": 74.6},
      {"t": "2023-03-08T22:52", "s": 77.8, "r": 74.0},
      {"t": "2023-03-08T23:07", "s": 70.7, "r": 73.2},
      {"t": "2023-03-08T23:22", "s": 74.1, "r": 73.5},
      {"t": "2023-03-08T23:37", "s": 71.2, "r": 74.7},
      {"t": "2023-03-08T23:52", "s": 81.6, "r": 75.4},
      {"t": "2023-03-09T00:07", "s": 74.0, "r": 74.8},
      {"t": "2023-03-09T00:22", "s": 72.5, "r": 73.6},
      {"t": "2023-03-09T00:37", "s": 77.9, "r": 73.1},
      {"t": "2023-03-09T00:52", "s": 72.2, "r": 73.4},
      {"t": "2023-03-09T01:07", "s": 69.7, "r": 74.3},
      {"t": "2023-03-09T01:22", "s": 75.4, "r": 74.9},
      {"t": "2023-03-09T01:37", "s": 73.2, "r": 74.4},
      {"t": "2023-03-09T01:52", "s": 79.0, "r": 73.6},
      {"t": "2023-03-09T02:07", "s": 71.6, "r": 73.2},
      {"t": "2023-03-09T02:22", "s": 73.8, "r": 73.4},
      {"t": "2023-03-09T02:37", "s": 70.3, "r": 74.4}
    ],
    "ref": [
      {"g": "identity", "x": 0, "y": 0},
      {"g": "identity", "x": 100, "y": 100},
      {"g": "fit", "x": 1.2, "y": -1.2},
      {"g": "fit", "x": 100, "y": 100}
    ]
  },
  "hconcat": [
    {
      "width": 621,
      "height": 457,
      "data": {"name": "rh"},
      "transform": [{"fold": ["s", "r"], "as": ["k", "v"]}],
      "mark": {"type": "line", "strokeWidth": 2, "clip": true},
      "encoding": {
        "x": {
          "field": "t",
          "type": "temporal",
          "scale": {
            "domain": [
              {"year": 2023, "month": 3, "date": 6, "hours": 12},
              {"year": 2023, "month": 3, "date": 9, "hours": 12}
            ]
          },
          "axis": {
            "values": [
              {"year": 2023, "month": 3, "date": 6, "hours": 12},
              {"year": 2023, "month": 3, "date": 7, "hours": 0},
              {"year": 2023, "month": 3, "date": 7, "hours": 12},
              {"year": 2023, "month": 3, "date": 8, "hours": 0},
              {"year": 2023, "month": 3, "date": 8, "hours": 12},
              {"year": 2023, "month": 3, "date": 9, "hours": 0},
              {"year": 2023, "month": 3, "date": 9, "hours": 12}
            ],
            "format": "%b %d, %H:%M",
            "labelExpr": "date(datum.value) == 9 && hours(datum.value) == 12 ? [datum.label, '2023'] : datum.label",
            "labelAlign": {
              "condition": {"test": "date(datum.value) == 9 && hours(datum.value) == 12", "value": "left"},
              "value": "center"
            },
            "labelOffset": {
              "condition": {"test": "date(datum.value) == 9 && hours(datum.value) == 12", "value": -30},
              "value": 0
            },
            "labelLineHeight": 14,
            "labelFlush": false,
            "grid": true,
            "title": "Datum/Uhrzeit",
            "titleY": 19,
            "titleBaseline": "top"
          }
        },
        "y": {
          "field": "v",
          "type": "quantitative",
          "scale": {"domain": [0, 100], "nice": false},
          "axis": {
            "values": [0, 10, 20, 30, 40, 50, 60, 70, 80, 90, 100],
            "grid": true,
            "title": "relative Feuchte (%)",
            "titleX": -31,
            "titleBaseline": "middle"
          }
        },
        "color": {
          "field": "k",
          "type": "nominal",
          "scale": {"domain": ["s", "r"], "range": ["#0072BD", "#D95319"]},
          "legend": {
            "title": null,
            "orient": "none",
            "legendX": 497,
            "legendY": 8,
            "fillColor": "white",
            "strokeColor": "#4d4d4d",
            "padding": 3,
            "rowPadding": 0,
            "labelFont": "Liberation Sans",
            "labelFontSize": 9.5,
            "labelColor": "#222222",
            "labelLimit": 200,
            "labelOffset": 14,
            "symbolType": "M-2.8,0L2.8,0",
            "symbolSize": 100,
            "symbolOffset": 9,
            "symbolStrokeWidth": 2,
            "labelExpr": "datum.label == 's' ? 'SHT85 (Sensirion)' : 'HC2A-S3 (Rotronic)'"
          }
        },
        "strokeDash": {
          "field": "k",
          "type": "nominal",
          "scale": {"domain": ["s", "r"], "range": [[1, 0], [6, 4]]},
          "legend": {
            "title": null,
            "orient": "none",
            "legendX": 497,
            "legendY": 8,
            "fillColor": "white",
            "strokeColor": "#4d4d4d",
            "padding": 3,
            "rowPadding": 0,
            "labelFont": "Liberation Sans",
            "labelFontSize": 9.5,
            "labelColor": "#222222",
            "labelLimit": 200,
            "labelOffset": 14,
            "symbolType": "M-2.8,0L2.8,0",
            "symbolSize": 100,
            "symbolOffset": 9,
            "symbolStrokeWidth": 2,
            "labelExpr": "datum.label == 's' ? 'SHT85 (Sensirion)' : 'HC2A-S3 (Rotronic)'"
          }
        }
      }
    },
    {
      "width": 268,
      "height": 457,
      "layer": [
        {
          "data": {"name": "rh"},
          "mark": {"type": "point", "shape": "circle", "filled": false, "size": 22, "strokeWidth": 0.8, "color": "#111111", "opacity": 0.9, "clip": true},
          "encoding": {
            "x": {
              "field": "r",
              "type": "quantitative",
              "scale": {"domain": [0, 100], "nice": false},
              "axis": {
                "values": [0, 20, 40, 60, 80, 100],
                "grid": true,
                "title": "relative Feuchte HC2A-S3 (%)",
                "titleY": 19,
                "titleBaseline": "top"
              }
            },
            "y": {
              "field": "s",
              "type": "quantitative",
              "scale": {"domain": [-1.2, 100], "nice": false, "zero": false},
              "axis": {
                "values": [0, 10, 20, 30, 40, 50, 60, 70, 80, 90, 100],
                "grid": true,
                "title": "relative Feuchte SHT85 (%)",
                "titleX": -37,
                "titleBaseline": "middle"
              }
            }
          }
        },
        {
          "data": {"name": "ref"},
          "mark": {"type": "line", "color": "#333333", "strokeWidth": 0.8, "clip": true},
          "encoding": {
            "x": {"field": "x", "type": "quantitative"},
            "y": {"field": "y", "type": "quantitative"},
            "detail": {"field": "g"}
          }
        }
      ]
    }
  ]
}
